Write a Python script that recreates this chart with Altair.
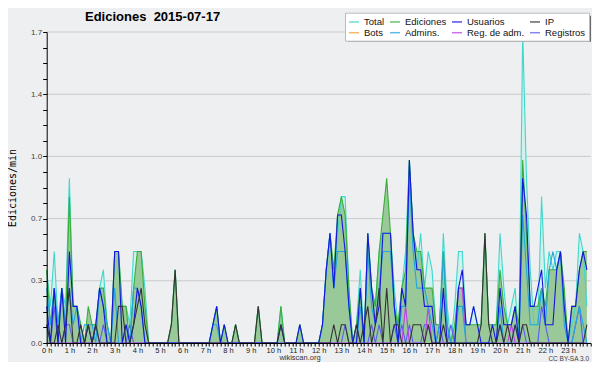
import altair as alt
import pandas as pd

# ---------------- data (edits per minute, one value per 10-minute slot) -------------
STEPS_PER_HOUR = 6

SERIES = ["Total", "Ediciones", "Usuarios", "IP", "Bots", "Admins.", "Reg. de adm.", "Registros"]
COLORS = ["#3fd8cc", "#3aae3a", "#1515e0", "#333333", "#f5a030", "#22a6e0", "#c03cf0", "#5c5cf2"]

TOTAL = [
    0.4, 0.2, 0.5, 0.1, 0.3, 0.2, 0.9, 0.2, 0.2, 0.1, 0.0, 0.1,
    0.1, 0.1, 0.3, 0.4, 0.1, 0.0, 0.5, 0.5, 0.2, 0.2, 0.1, 0.5,
    0.5, 0.5, 0.3, 0.0, 0.0, 0.0, 0.0, 0.0, 0.0, 0.1, 0.4, 0.0,
    0.0, 0.0, 0.0, 0.0, 0.0, 0.0, 0.0, 0.0, 0.1, 0.2, 0.0, 0.1,
    0.0, 0.0, 0.1, 0.0, 0.0, 0.0, 0.0, 0.0, 0.2, 0.0, 0.0, 0.0,
    0.0, 0.0, 0.2, 0.0, 0.0, 0.0, 0.0, 0.1, 0.0, 0.0, 0.0, 0.0,
    0.0, 0.1, 0.4, 0.6, 0.3, 0.6, 0.8, 0.8, 0.3, 0.0, 0.1, 0.4,
    0.0, 0.6, 0.3, 0.2, 0.5, 0.6, 0.6, 0.6, 0.3, 0.1, 0.3, 0.5,
    1.0, 0.6, 0.4, 0.6, 0.3, 0.5, 0.4, 0.1, 0.1, 0.6, 0.2, 0.0,
    0.2, 0.5, 0.5, 0.1, 0.1, 0.2, 0.1, 0.1, 0.6, 0.1, 0.1, 0.1,
    0.6, 0.3, 0.1, 0.2, 0.3, 0.0, 1.7, 0.9, 0.4, 0.1, 0.1, 0.8,
    0.3, 0.5, 0.4, 0.5, 0.5, 0.2, 0.0, 0.1, 0.2, 0.6, 0.5, 0.2,
]
EDICIONES = [
    0.4, 0.1, 0.3, 0.0, 0.3, 0.1, 0.8, 0.2, 0.2, 0.1, 0.0, 0.2,
    0.1, 0.1, 0.3, 0.3, 0.1, 0.0, 0.5, 0.5, 0.2, 0.2, 0.0, 0.3,
    0.5, 0.5, 0.2, 0.0, 0.0, 0.0, 0.0, 0.0, 0.0, 0.1, 0.4, 0.0,
    0.0, 0.0, 0.0, 0.0, 0.0, 0.0, 0.0, 0.0, 0.1, 0.2, 0.0, 0.1,
    0.0, 0.0, 0.1, 0.0, 0.0, 0.0, 0.0, 0.0, 0.2, 0.0, 0.0, 0.0,
    0.0, 0.0, 0.2, 0.0, 0.0, 0.0, 0.0, 0.1, 0.0, 0.0, 0.0, 0.0,
    0.0, 0.1, 0.4, 0.6, 0.4, 0.7, 0.8, 0.7, 0.3, 0.0, 0.1, 0.3,
    0.0, 0.6, 0.3, 0.2, 0.5, 0.7, 0.9, 0.6, 0.2, 0.1, 0.3, 0.4,
    1.0, 0.6, 0.5, 0.5, 0.3, 0.3, 0.3, 0.1, 0.1, 0.5, 0.1, 0.0,
    0.1, 0.3, 0.3, 0.1, 0.1, 0.1, 0.1, 0.1, 0.6, 0.1, 0.1, 0.1,
    0.4, 0.2, 0.1, 0.1, 0.2, 0.1, 1.0, 0.6, 0.2, 0.2, 0.2, 0.3,
    0.2, 0.4, 0.4, 0.4, 0.5, 0.3, 0.0, 0.2, 0.2, 0.4, 0.5, 0.5,
]
USUARIOS = [
    0.2, 0.0, 0.3, 0.0, 0.3, 0.0, 0.5, 0.2, 0.2, 0.0, 0.0, 0.1,
    0.0, 0.1, 0.3, 0.2, 0.0, 0.0, 0.5, 0.5, 0.0, 0.1, 0.0, 0.1,
    0.3, 0.2, 0.0, 0.0, 0.0, 0.0, 0.0, 0.0, 0.0, 0.0, 0.0, 0.0,
    0.0, 0.0, 0.0, 0.0, 0.0, 0.0, 0.0, 0.0, 0.1, 0.2, 0.0, 0.1,
    0.0, 0.0, 0.0, 0.0, 0.0, 0.0, 0.0, 0.0, 0.0, 0.0, 0.0, 0.0,
    0.0, 0.0, 0.1, 0.0, 0.0, 0.0, 0.0, 0.1, 0.0, 0.0, 0.0, 0.0,
    0.0, 0.1, 0.4, 0.6, 0.3, 0.7, 0.7, 0.5, 0.2, 0.0, 0.0, 0.3,
    0.0, 0.6, 0.3, 0.1, 0.2, 0.6, 0.6, 0.6, 0.2, 0.0, 0.3, 0.2,
    1.0, 0.6, 0.4, 0.4, 0.2, 0.2, 0.2, 0.0, 0.0, 0.3, 0.0, 0.0,
    0.0, 0.3, 0.4, 0.1, 0.1, 0.2, 0.1, 0.0, 0.0, 0.0, 0.1, 0.0,
    0.3, 0.1, 0.1, 0.1, 0.2, 0.0, 0.9, 0.7, 0.2, 0.2, 0.3, 0.4,
    0.1, 0.1, 0.1, 0.4, 0.5, 0.2, 0.0, 0.2, 0.2, 0.4, 0.5, 0.4,
]
IP = [
    0.1, 0.0, 0.0, 0.1, 0.0, 0.1, 0.3, 0.0, 0.0, 0.1, 0.0, 0.1,
    0.0, 0.1, 0.0, 0.0, 0.0, 0.0, 0.0, 0.2, 0.2, 0.0, 0.0, 0.1,
    0.2, 0.3, 0.1, 0.0, 0.0, 0.0, 0.0, 0.0, 0.0, 0.1, 0.4, 0.0,
    0.0, 0.0, 0.0, 0.0, 0.0, 0.0, 0.0, 0.0, 0.0, 0.0, 0.0, 0.0,
    0.0, 0.0, 0.1, 0.0, 0.0, 0.0, 0.0, 0.0, 0.2, 0.0, 0.0, 0.0,
    0.0, 0.0, 0.1, 0.0, 0.0, 0.0, 0.0, 0.0, 0.0, 0.0, 0.0, 0.0,
    0.0, 0.0, 0.0, 0.0, 0.1, 0.0, 0.1, 0.1, 0.0, 0.0, 0.1, 0.0,
    0.1, 0.2, 0.0, 0.1, 0.3, 0.0, 0.3, 0.0, 0.1, 0.1, 0.0, 0.0,
    0.0, 0.1, 0.1, 0.1, 0.0, 0.1, 0.0, 0.0, 0.0, 0.1, 0.0, 0.0,
    0.0, 0.0, 0.0, 0.0, 0.0, 0.0, 0.0, 0.1, 0.6, 0.1, 0.0, 0.0,
    0.1, 0.0, 0.1, 0.0, 0.1, 0.0, 0.1, 0.1, 0.0, 0.0, 0.0, 0.0,
    0.0, 0.0, 0.0, 0.0, 0.0, 0.0, 0.0, 0.0, 0.0, 0.0, 0.0, 0.1,
]
ADMINS = [
    0.3, 0.1, 0.3, 0.1, 0.3, 0.1, 0.3, 0.1, 0.2, 0.0, 0.1, 0.1,
    0.1, 0.0, 0.3, 0.2, 0.1, 0.0, 0.3, 0.0, 0.0, 0.1, 0.0, 0.3,
    0.3, 0.2, 0.0, 0.0, 0.0, 0.0, 0.0, 0.0, 0.0, 0.0, 0.0, 0.0,
    0.0, 0.0, 0.0, 0.0, 0.0, 0.0, 0.0, 0.0, 0.1, 0.1, 0.0, 0.0,
    0.0, 0.0, 0.0, 0.0, 0.0, 0.0, 0.0, 0.0, 0.0, 0.0, 0.0, 0.0,
    0.0, 0.0, 0.0, 0.0, 0.0, 0.0, 0.0, 0.0, 0.0, 0.0, 0.0, 0.0,
    0.0, 0.1, 0.4, 0.6, 0.3, 0.5, 0.5, 0.5, 0.2, 0.0, 0.0, 0.2,
    0.0, 0.5, 0.2, 0.1, 0.3, 0.5, 0.5, 0.5, 0.2, 0.0, 0.2, 0.2,
    0.9, 0.5, 0.3, 0.3, 0.3, 0.2, 0.1, 0.0, 0.1, 0.5, 0.1, 0.0,
    0.0, 0.2, 0.2, 0.0, 0.0, 0.0, 0.0, 0.0, 0.0, 0.0, 0.0, 0.0,
    0.2, 0.0, 0.0, 0.0, 0.1, 0.0, 0.7, 0.4, 0.1, 0.1, 0.1, 0.3,
    0.1, 0.4, 0.5, 0.4, 0.5, 0.1, 0.0, 0.0, 0.1, 0.2, 0.1, 0.0,
]
REG_ADM = [
    0.0, 0.0, 0.0, 0.0, 0.0, 0.0, 0.0, 0.0, 0.0, 0.0, 0.0, 0.0,
    0.0, 0.0, 0.0, 0.0, 0.0, 0.0, 0.0, 0.0, 0.0, 0.0, 0.0, 0.0,
    0.0, 0.0, 0.0, 0.0, 0.0, 0.0, 0.0, 0.0, 0.0, 0.0, 0.0, 0.0,
    0.0, 0.0, 0.0, 0.0, 0.0, 0.0, 0.0, 0.0, 0.0, 0.0, 0.0, 0.0,
    0.0, 0.0, 0.0, 0.0, 0.0, 0.0, 0.0, 0.0, 0.0, 0.0, 0.0, 0.0,
    0.0, 0.0, 0.0, 0.0, 0.0, 0.0, 0.0, 0.0, 0.0, 0.0, 0.0, 0.0,
    0.0, 0.0, 0.0, 0.0, 0.0, 0.0, 0.0, 0.0, 0.0, 0.0, 0.0, 0.0,
    0.0, 0.0, 0.0, 0.0, 0.0, 0.0, 0.0, 0.0, 0.0, 0.0, 0.0, 0.2,
    0.0, 0.0, 0.0, 0.0, 0.0, 0.2, 0.0, 0.0, 0.0, 0.0, 0.0, 0.0,
    0.0, 0.3, 0.3, 0.0, 0.0, 0.0, 0.0, 0.0, 0.0, 0.0, 0.0, 0.0,
    0.0, 0.0, 0.0, 0.1, 0.0, 0.0, 0.0, 0.0, 0.0, 0.0, 0.0, 0.0,
    0.0, 0.0, 0.0, 0.0, 0.0, 0.0, 0.0, 0.0, 0.0, 0.0, 0.0, 0.0,
]
REGISTROS = [
    0.1, 0.0, 0.2, 0.0, 0.0, 0.1, 0.1, 0.0, 0.0, 0.0, 0.0, 0.0,
    0.0, 0.1, 0.0, 0.1, 0.0, 0.0, 0.0, 0.0, 0.0, 0.0, 0.1, 0.0,
    0.0, 0.0, 0.0, 0.0, 0.0, 0.0, 0.0, 0.0, 0.0, 0.0, 0.0, 0.0,
    0.0, 0.0, 0.0, 0.0, 0.0, 0.0, 0.0, 0.0, 0.0, 0.0, 0.0, 0.0,
    0.0, 0.0, 0.0, 0.0, 0.0, 0.0, 0.0, 0.0, 0.0, 0.0, 0.0, 0.0,
    0.0, 0.0, 0.0, 0.0, 0.0, 0.0, 0.0, 0.0, 0.0, 0.0, 0.0, 0.0,
    0.0, 0.0, 0.0, 0.0, 0.0, 0.0, 0.0, 0.1, 0.0, 0.0, 0.1, 0.0,
    0.0, 0.0, 0.1, 0.0, 0.1, 0.0, 0.0, 0.0, 0.1, 0.0, 0.1, 0.0,
    0.1, 0.0, 0.0, 0.0, 0.1, 0.1, 0.0, 0.0, 0.1, 0.0, 0.0, 0.1,
    0.0, 0.0, 0.0, 0.0, 0.0, 0.0, 0.0, 0.0, 0.0, 0.0, 0.0, 0.0,
    0.1, 0.0, 0.0, 0.0, 0.0, 0.0, 0.1, 0.0, 0.0, 0.0, 0.0, 0.2,
    0.1, 0.0, 0.0, 0.0, 0.0, 0.0, 0.0, 0.0, 0.1, 0.2, 0.0, 0.0,
]

Y_MAJOR = [0.0, 0.34, 0.68, 1.02, 1.36, 1.7]
Y_TICKS = [0.0, 0.085, 0.17, 0.255, 0.34, 0.425, 0.51, 0.595, 0.68, 0.765, 0.85,
           0.935, 1.02, 1.105, 1.19, 1.275, 1.36, 1.445, 1.53, 1.615, 1.7]
X_TICKS = [k / STEPS_PER_HOUR for k in range(24 * STEPS_PER_HOUR + 1)]

SERIES_VALUES = {
    "Total": TOTAL, "Ediciones": EDICIONES, "Registros": REGISTROS,
    "Reg. de adm.": REG_ADM, "Admins.": ADMINS, "Usuarios": USUARIOS, "IP": IP,
}
rows = []
for name, vals in SERIES_VALUES.items():
    for i, v in enumerate(vals):
        rows.append({"hora": i / STEPS_PER_HOUR, "valor": v, "serie": name})
df = pd.DataFrame(rows)
grid_df = pd.DataFrame({"v": Y_MAJOR})
one = pd.DataFrame({"k": [0]})

BG = "#eeeff1"
FONT = "Liberation Sans"

xscale = alt.Scale(domain=[0, 24], nice=False, zero=False)
yscale = alt.Scale(domain=[0, 1.7], nice=False)
cscale = alt.Scale(domain=SERIES, range=COLORS)

major_test = "abs(datum.value / 0.34 - round(datum.value / 0.34)) < 0.01"

xaxis = alt.Axis(
    values=X_TICKS,
    labelExpr="datum.value % 1 === 0 && datum.value < 24 ? datum.value + ' h' : ''",
    tickSize=3, grid=False, domainColor="black", tickColor="black",
    labelFont=FONT, labelFontSize=7.5, labelColor="#222", labelPadding=0.5,
    labelOverlap=False, labelFlush=False, title=None, zindex=1,
)
yaxis = alt.Axis(
    values=Y_TICKS,
    labelExpr=f"{major_test} ? format(datum.value, '.1f') : ''",
    tickSize=4,
    grid=False, domainColor="black", tickColor="black",
    labelFont=FONT, labelFontSize=8, labelColor="#444", labelPadding=1,
    labelOverlap=False, labelFlush=False,
    title="Ediciones/min", titleFont="DejaVu Sans Mono", titleFontSize=10,
    titleFontWeight="normal", titleColor="black", titleX=-31, titleY=155.5,
    titleAngle=270, titleAlign="center", titleBaseline="alphabetic", zindex=1,
)

X = alt.X("hora:Q", scale=xscale, axis=xaxis)
Y = alt.Y("valor:Q", scale=yscale, axis=yaxis)

grid = alt.Chart(grid_df).mark_rule(color="#c9c9c9", strokeWidth=1).encode(
    y=alt.Y("v:Q", scale=yscale, axis=yaxis)
)

def area(name, fill):
    return alt.Chart(df).transform_filter(alt.datum.serie == name).mark_area(
        color=fill, opacity=1, interpolate="linear"
    ).encode(x=X, y=Y)

legend = alt.Legend(
    orient="none", legendX=298.3, legendY=-19.3, columns=4, direction="horizontal",
    title=None, symbolType="stroke", symbolSize=100, symbolStrokeWidth=1.5,
    symbolOpacity=0.75, labelFont=FONT, labelFontSize=9.5, labelColor="#111",
    labelOffset=4, padding=3, columnPadding=2, rowPadding=0, fillColor="white",
    strokeColor="#bbbbbb", labelLimit=0,
)

DRAW_ORDER = ["Total", "Ediciones", "Registros", "Reg. de adm.", "Admins.", "Usuarios", "IP"]
lines = []
for idx, name in enumerate(DRAW_ORDER):
    lines.append(
        alt.Chart(df).transform_filter(alt.datum.serie == name).mark_line(
            strokeWidth=1.1, interpolate="linear"
        ).encode(
            x=X, y=Y,
            color=alt.Color("serie:N", scale=cscale, legend=legend if idx == 0 else None),
        )
    )

shadow = alt.Chart(one).mark_rect(color="#6a6a6a").encode(
    x=alt.value(301.3), x2=alt.value(544.3), y=alt.value(-16.3), y2=alt.value(9.8)
)
title = alt.Chart(one).mark_text(
    text="Ediciones\u00a0\u00a02015-07-17", align="left", baseline="alphabetic",
    font=FONT, fontSize=13, fontWeight="bold", color="black",
).encode(x=alt.value(38.3), y=alt.value(-10.7))
site = alt.Chart(one).mark_text(
    text="wikiscan.org", align="center", baseline="alphabetic",
    font=FONT, fontSize=7.5, color="#333",
).encode(x=alt.value(253.3), y=alt.value(328.2))
lic = alt.Chart(one).mark_text(
    text="CC BY-SA 3.0", align="right", baseline="alphabetic",
    font=FONT, fontSize=6.5, color="#444",
).encode(x=alt.value(542.3), y=alt.value(328.8))

# whole svg = 584 x 354 so that the page (with its 8px margin) fits the 600x370 window
chart = alt.layer(
    grid, area("Total", "#d2f0ec"), area("Ediciones", "#99c999"), *lines,
    shadow, title, site, lic,
).properties(
    width=544, height=311,
    autosize=alt.AutoSizeParams(type="none"),
    padding={"left": 38.7, "top": 24, "right": 1.3, "bottom": 19},
    background=BG,
).configure_view(strokeWidth=0)

chart.save("out.html", embed_options={"renderer": "svg", "actions": False})
